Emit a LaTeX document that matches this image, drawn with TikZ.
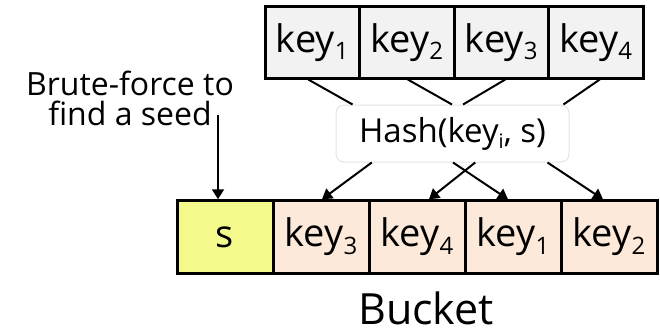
\documentclass[tikz,border=0pt]{standalone}
\usepackage{fontspec}
\setmainfont{Open Sans}
\usetikzlibrary{arrows.meta,calc}

\definecolor{keygray}{HTML}{F2F2F2}
\definecolor{seedyellow}{HTML}{F4F98C}
\definecolor{slotpeach}{HTML}{FCE9D9}
\definecolor{hashedge}{HTML}{E3E3E3}

% lowered, smaller index for key labels
\newcommand\keysub[1]{\raisebox{-0.2em}{\fontsize{24}{24}\selectfont #1}}
\newcommand\hashsub[1]{\raisebox{-0.2em}{\fontsize{20}{20}\selectfont #1}}

\begin{document}
\begin{tikzpicture}[x=1pt,y=-1pt,
  cell/.style={draw=black, line width=3pt, inner sep=0pt,
    font=\fontsize{38}{38}\selectfont},
  topcell/.style={cell, fill=keygray, minimum width=94.5pt, minimum height=71.5pt},
  slot/.style={cell, fill=slotpeach, minimum width=96pt, minimum height=72.5pt},
  seedslot/.style={slot, fill=seedyellow},
  hashbox/.style={draw=hashedge, line width=1pt, rounded corners=8pt, fill=white,
    minimum width=233pt, minimum height=57pt, inner sep=0pt,
    font=\fontsize{33}{33}\selectfont},
  link/.style={line width=2pt},
  arrowlink/.style={link, -{Triangle[length=10pt,width=12pt]}}]

\useasboundingbox (0,0) rectangle (660,333);

% input keys
\node[topcell] (k1) at (312.25,42.25) {key\keysub{1}};
\node[topcell] (k2) at (406.75,42.25) {key\keysub{2}};
\node[topcell] (k3) at (501.25,42.25) {key\keysub{3}};
\node[topcell] (k4) at (595.75,42.25) {key\keysub{4}};

% hash function
\node[hashbox] (h) at (452.5,133.5) {Hash(key\hashsub{i}, s)};

% bucket: seed slot followed by the placed keys
\node[seedslot] (s0) at (225,237) {s};
\node[slot] (s1) at (321,237) {key\keysub{3}};
\node[slot] (s2) at (417,237) {key\keysub{4}};
\node[slot] (s3) at (513,237) {key\keysub{1}};
\node[slot] (s4) at (609,237) {key\keysub{2}};

\node[anchor=base, inner sep=0pt, font=\fontsize{43}{43}\selectfont] (bucket) at (426,324.5) {Bucket};

% seed search label
\node[align=center, inner sep=0pt, font=\fontsize{32}{30}\selectfont] (bf) at (130,98)
  {Brute-force to\\find a seed};
\coordinate (bfend) at (218,115);
\draw[arrowlink] (bfend) -- (bfend |- s0.north);

% keys into the hash
\draw[link] ($(k1.south)+(-4,0)$) -- ($(h.north west)!0.073!(h.north east)$);
\draw[link] ($(k2.south)+(1,0)$)  -- ($(h.north west)!0.498!(h.north east)$);
\draw[link] ($(k3.south)+(4,0)$)  -- ($(h.north west)!0.545!(h.north east)$);
\draw[link] ($(k4.south)+(4,0)$)  -- ($(h.north west)!0.974!(h.north east)$);

% hash outputs into bucket slots
\draw[arrowlink] ($(h.south west)!0.155!(h.south east)$) -- ($(s1.north)+(1,0)$);
\draw[arrowlink] ($(h.south west)!0.597!(h.south east)$) -- ($(s2.north)+(12,0)$);
\draw[arrowlink] ($(h.south west)!0.502!(h.south east)$) -- ($(s3.north)+(-5,0)$);
\draw[arrowlink] ($(h.south west)!0.906!(h.south east)$) -- ($(s4.north)+(-6,0)$);
\end{tikzpicture}
\end{document}
